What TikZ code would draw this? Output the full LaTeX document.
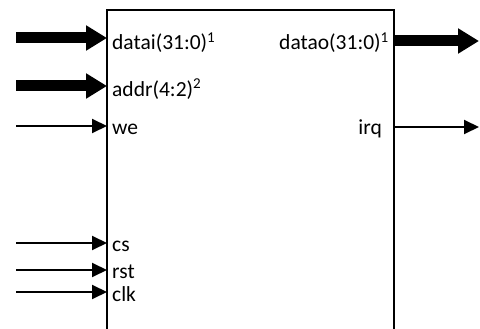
\documentclass[tikz,border=0pt]{standalone}
\usepackage{fontspec}
\setmainfont{Carlito}
\usetikzlibrary{arrows.meta}

\tikzset{
  bus/.style={line width=11pt, -{Triangle[width=24pt,length=21pt]}},
  sig/.style={line width=2pt, -{Triangle[width=14pt,length=15pt]}},
  pin/.style={inner sep=0pt, font=\fontsize{21.5}{25}\selectfont},
}

\begin{document}
\begin{tikzpicture}[x=1pt,y=-1pt]

  \useasboundingbox (0,0) rectangle (480,329);

  % block outline, open at the bottom
  \draw[line width=1.6pt] (107,330) -- (107,10) -- (394,10) -- (394,330);

  % inputs
  \coordinate (datai-src) at (16,38);  \coordinate (datai) at (107,38);
  \coordinate (addr-src)  at (16,86);  \coordinate (addr)  at (107,86);
  \coordinate (we-src)    at (16,126); \coordinate (we)    at (107,126);
  \coordinate (cs-src)    at (16,243); \coordinate (cs)    at (107,243);
  \coordinate (rst-src)   at (16,270); \coordinate (rst)   at (107,270);
  \coordinate (clk-src)   at (16,292); \coordinate (clk)   at (107,292);

  % outputs
  \coordinate (datao) at (394,41);  \coordinate (datao-dst) at (479,41);
  \coordinate (irq)   at (394,127); \coordinate (irq-dst)   at (479,127);

  \draw[bus] (datai-src) -- (datai);
  \draw[bus] (addr-src) -- (addr);
  \draw[sig] (we-src) -- (we);
  \draw[sig] (cs-src) -- (cs);
  \draw[sig] (rst-src) -- (rst);
  \draw[sig] (clk-src) -- (clk);
  \draw[bus] (datao) -- (datao-dst);
  \draw[sig] (irq) -- (irq-dst);

  \node[pin, anchor=base west] (datai-lbl) at (112,50) {datai(31:0)\textsuperscript{1}};
  \node[pin, anchor=base west] (addr-lbl) at (112,96) {addr(4:2)\textsuperscript{2}};
  \node[pin, anchor=base west] (we-lbl) at (112,135) {we};
  \node[pin, anchor=base west] (cs-lbl) at (112,251) {cs};
  \node[pin, anchor=base west] (rst-lbl) at (112,278) {rst};
  \node[pin, anchor=base west] (clk-lbl) at (112,301) {clk};
  \node[pin, anchor=base east] (datao-lbl) at (389,50) {datao(31:0)\textsuperscript{1}};
  \node[pin, anchor=base east] (irq-lbl) at (382,135) {irq};

\end{tikzpicture}
\end{document}
